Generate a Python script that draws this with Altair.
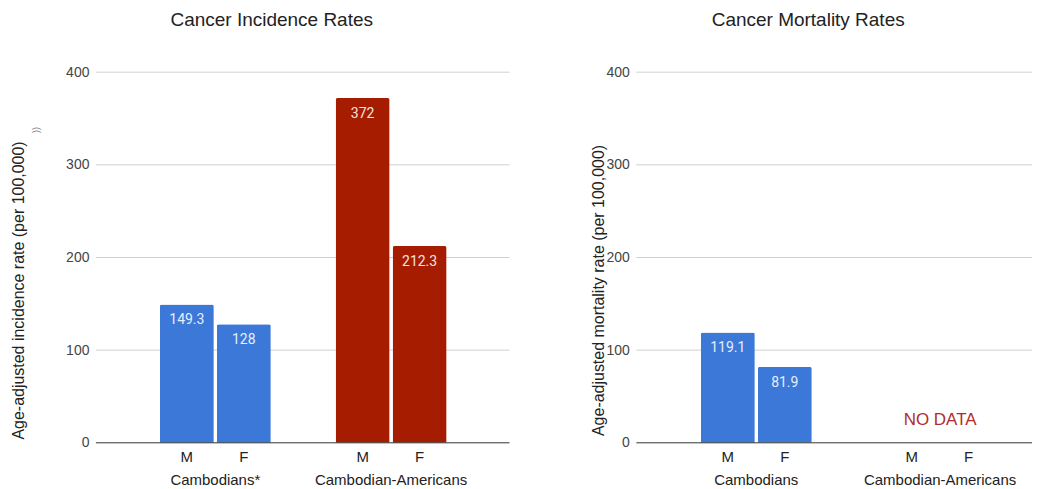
import altair as alt
import pandas as pd

# ---------------- data ----------------
groups_inc = ["Cambodians*", "Cambodian-Americans"]
groups_mort = ["Cambodians", "Cambodian-Americans"]
sexes = ["M", "F"]
incidence_values = [149.3, 128, 372, 212.3]   # (Cambodians* M, F), (Cambodian-Americans M, F)
mortality_values = [119.1, 81.9]              # Cambodians M, F (no data for Cambodian-Americans)
y_ticks = [0, 100, 200, 300, 400]
bar_colors = ["#3c78d8", "#a61c00"]
no_data_text = "NO DATA"
clipped_note = "))"

FONT = "Liberation Sans"
H = 371
W_L = 414
W_R = 396


def fmt(v):
    return f"{v:g}"


inc_df = pd.DataFrame({
    "group": [g for g in groups_inc for _ in sexes],
    "sex": sexes * len(groups_inc),
    "value": incidence_values,
})
inc_df["label"] = inc_df["value"].map(fmt)

mort_df = pd.DataFrame({
    "group": [groups_mort[0]] * len(mortality_values),
    "sex": sexes,
    "value": mortality_values,
})
mort_df["label"] = mort_df["value"].map(fmt)


def panel(df, groups, title, ytitle, x_range, pad_inner, title_x, title_dx, width,
          no_data_group=None, note=None):
    xenc = alt.X(
        "group:N",
        sort=groups,
        scale=alt.Scale(domain=groups, range=x_range, paddingInner=pad_inner, paddingOuter=0),
        axis=alt.Axis(title=None, labelAngle=0, ticks=False, domain=False, grid=False,
                      labelPadding=30, labelFontSize=15, labelColor="#222222", labelFont=FONT),
    )
    xoff = alt.XOffset("sex:N", sort=sexes,
                       scale=alt.Scale(domain=sexes, paddingInner=0.053, paddingOuter=0))
    yenc = alt.Y(
        "value:Q",
        scale=alt.Scale(domain=[0, 400], nice=False),
        axis=alt.Axis(values=y_ticks, title=ytitle, ticks=False, domain=False, grid=False,
                      labelFontSize=14, labelColor="#444444", labelFont=FONT, labelPadding=7,
                      titleFontSize=16, titleFont=FONT, titleFontWeight="normal",
                      titleColor="#222222", titleX=title_x, titleY=218),
    )
    color = alt.Color("group:N", scale=alt.Scale(domain=groups, range=bar_colors), legend=None)

    grid = alt.Chart(pd.DataFrame({"v": y_ticks[1:]})).mark_rule(
        color="#d0d0d0", strokeWidth=1
    ).encode(y=alt.Y("v:Q"))

    base = alt.Chart(df)
    bars = base.mark_bar(cornerRadiusTopLeft=2, cornerRadiusTopRight=2).encode(
        x=xenc, xOffset=xoff, y=yenc, color=color
    )
    labels = base.mark_text(font="Roboto", fontSize=14, color="white", opacity=0.88,
                            baseline="alphabetic", dy=20).encode(
        x="group:N", xOffset="sex:N", y="value:Q", text="label:N"
    )
    sex_df = pd.DataFrame({
        "group": [g for g in groups for _ in sexes],
        "sex": sexes * len(groups),
    })
    sex_labels = alt.Chart(sex_df).mark_text(font=FONT, fontSize=15, color="#222222",
                                             baseline="alphabetic").encode(
        x="group:N", xOffset="sex:N", y=alt.value(H + 19), text="sex:N"
    )
    zero = alt.Chart(pd.DataFrame({"v": [0]})).mark_rule(color="#333333", strokeWidth=1).encode(
        y="v:Q"
    )
    layers = [grid, bars, labels, sex_labels, zero]
    if no_data_group is not None:
        nd = alt.Chart(pd.DataFrame({"group": [no_data_group], "t": [no_data_text]})).mark_text(
            font=FONT, fontSize=17, color="#b22b2b", baseline="alphabetic"
        ).encode(x="group:N", y=alt.value(353), text="t:N")
        layers.append(nd)
    if note is not None:
        nt = alt.Chart(pd.DataFrame({"t": [note]})).mark_text(
            font=FONT, fontSize=9, color="#777777", angle=270
        ).encode(x=alt.value(-60), y=alt.value(58), text="t:N")
        layers.append(nt)

    return alt.layer(*layers).properties(
        width=width, height=H,
        title=alt.TitleParams(title, fontSize=19, font=FONT, fontWeight="normal",
                              color="#222222", anchor="middle", dx=title_dx, offset=20,
                              baseline="alphabetic"),
    )


left = panel(inc_df, groups_inc, "Cancer Incidence Rates",
             "Age-adjusted incidence rate (per 100,000)",
             [64, 351], 0.369, -69, -31, W_L, note=clipped_note)
right = panel(mort_df, groups_mort, "Cancer Mortality Rates",
              "Age-adjusted mortality rate (per 100,000)",
              [64.5, 359.5], 0.397, -30, -26, W_R, no_data_group=groups_mort[1])

chart = alt.hconcat(left, right, spacing=80).properties(
    padding={"left": 3, "top": 3, "right": 0, "bottom": 0},
    background="white",
).configure_view(stroke=None)

chart.save("out.html", embed_options={"renderer": "svg", "actions": False})
